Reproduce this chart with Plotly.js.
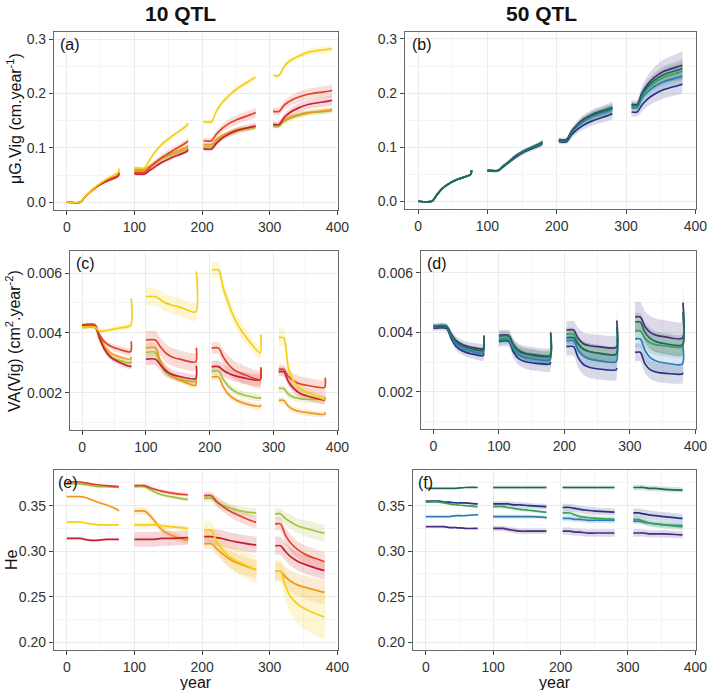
<!DOCTYPE html>
<html><head><meta charset="utf-8">
<script src="https://cdn.plot.ly/plotly-3.0.1.min.js"></script>
<style>html,body{margin:0;padding:0;background:#fff}#chart{width:709px;height:690px}</style>
</head><body><div id="chart"></div>
<script>
// ---- x grids (4 generations x 8 sample points) ----
const years  = [0,20,27,35,45,58,76,77, 100,115,122,130,140,153,178,179, 203,214,221,229,239,252,279,280, 308,316,323,331,341,354,380,381];
const yearsA = [0,20,27,35,45,58,76,77, 100,115,122,130,140,153,178,179, 202,214,221,229,239,252,278,279, 305,314,321,330,342,358,391,392];

// ---- series colours ----
const colors = {Y:'#F5CF12', O:'#F0981C', R1:'#E2412B', R2:'#C81F2E', G:'#A3C23A',
                P:'#4A2B7E', N:'#283282', B:'#2C7BBA', GR:'#37A25B', TG:'#1D6A5B'};

// ---- (a) muG.Vig, 10 QTL ----
const aY  = [0,0,0.010,0.020,0.031,0.042,0.055,0.062, 0.063,0.063,0.077,0.092,0.106,0.119,0.142,0.146, 0.148,0.148,0.167,0.182,0.195,0.209,0.229,0.230, 0.233,0.233,0.249,0.260,0.268,0.276,0.282,0.283];
const aR1 = [0,0,0.010,0.020,0.030,0.040,0.049,0.055, 0.055,0.055,0.063,0.072,0.082,0.092,0.111,0.113, 0.113,0.113,0.125,0.135,0.144,0.152,0.164,0.165, 0.167,0.167,0.178,0.186,0.193,0.199,0.205,0.206];
const aR2 = [0,0,0.010,0.019,0.029,0.038,0.048,0.052, 0.052,0.052,0.058,0.065,0.073,0.081,0.094,0.097, 0.098,0.098,0.108,0.117,0.125,0.132,0.140,0.141, 0.143,0.143,0.155,0.165,0.173,0.180,0.187,0.188];
const aO  = [0,0,0.010,0.020,0.030,0.040,0.050,0.056, 0.060,0.060,0.066,0.073,0.081,0.089,0.102,0.104, 0.106,0.106,0.115,0.122,0.128,0.134,0.139,0.140, 0.142,0.142,0.150,0.156,0.161,0.165,0.170,0.171];
const aG  = [0,0,0.010,0.020,0.030,0.040,0.050,0.054, 0.058,0.058,0.064,0.071,0.079,0.086,0.098,0.100, 0.102,0.102,0.111,0.119,0.125,0.131,0.137,0.138, 0.140,0.140,0.148,0.154,0.159,0.164,0.168,0.169];
const aYsd  = [0,0,0.001,0.001,0.001,0.002,0.002,0.002, 0.003,0.003,0.004,0.004,0.004,0.004,0.004,0.004, 0.004,0.004,0.004,0.005,0.005,0.005,0.005,0.005, 0.004,0.004,0.005,0.005,0.005,0.006,0.006,0.006];
const aR1sd = [0,0,0.001,0.001,0.001,0.002,0.002,0.002, 0.004,0.004,0.005,0.005,0.006,0.006,0.006,0.006, 0.006,0.006,0.007,0.007,0.008,0.008,0.009,0.009, 0.007,0.007,0.008,0.009,0.010,0.010,0.011,0.011];
const aR2sd = [0,0,0.001,0.001,0.001,0.002,0.002,0.002, 0.003,0.003,0.003,0.004,0.004,0.004,0.004,0.004, 0.004,0.004,0.005,0.005,0.005,0.006,0.006,0.006, 0.006,0.006,0.007,0.007,0.008,0.008,0.009,0.009];
const aOsd  = [0,0,0.001,0.001,0.001,0.001,0.002,0.002, 0.003,0.003,0.003,0.003,0.003,0.003,0.003,0.003, 0.003,0.003,0.004,0.004,0.004,0.004,0.004,0.004, 0.004,0.004,0.004,0.005,0.005,0.005,0.005,0.005];
const aGsd  = [0,0,0.001,0.001,0.001,0.001,0.002,0.002, 0.003,0.003,0.003,0.003,0.003,0.003,0.003,0.003, 0.003,0.003,0.004,0.004,0.004,0.004,0.004,0.004, 0.004,0.004,0.004,0.005,0.005,0.005,0.005,0.005];

// ---- (b) muG.Vig, 50 QTL ----
const bP  = [0,0,0.012,0.024,0.033,0.041,0.050,0.058, 0.057,0.057,0.064,0.072,0.083,0.093,0.108,0.110, 0.114,0.114,0.129,0.141,0.152,0.161,0.173,0.174, 0.179,0.179,0.200,0.216,0.229,0.240,0.251,0.252];
const bTG = [0,0,0.012,0.024,0.033,0.041,0.050,0.058, 0.057,0.057,0.064,0.072,0.083,0.093,0.108,0.110, 0.113,0.113,0.128,0.140,0.151,0.160,0.172,0.173, 0.178,0.178,0.198,0.212,0.224,0.234,0.245,0.246];
const bGR = [0,0,0.012,0.024,0.033,0.041,0.050,0.058, 0.057,0.057,0.064,0.072,0.083,0.093,0.107,0.109, 0.113,0.113,0.127,0.139,0.150,0.159,0.171,0.172, 0.176,0.176,0.195,0.208,0.219,0.229,0.240,0.241];
const bB  = [0,0,0.012,0.024,0.033,0.041,0.050,0.057, 0.057,0.057,0.064,0.072,0.083,0.093,0.107,0.109, 0.112,0.112,0.126,0.138,0.148,0.157,0.169,0.170, 0.173,0.173,0.190,0.202,0.212,0.221,0.231,0.232];
const bN  = [0,0,0.012,0.024,0.033,0.041,0.050,0.057, 0.056,0.056,0.063,0.071,0.081,0.091,0.105,0.107, 0.110,0.110,0.122,0.132,0.141,0.149,0.161,0.162, 0.165,0.165,0.178,0.189,0.198,0.206,0.216,0.217];
const bPsd  = [0,0,0.001,0.001,0.001,0.002,0.002,0.003, 0.002,0.002,0.003,0.003,0.004,0.004,0.005,0.006, 0.004,0.004,0.006,0.007,0.008,0.009,0.011,0.012, 0.008,0.008,0.013,0.016,0.019,0.022,0.026,0.027];
const bTGsd = [0,0,0.001,0.001,0.001,0.001,0.002,0.002, 0.002,0.002,0.002,0.003,0.003,0.003,0.004,0.004, 0.003,0.003,0.004,0.005,0.006,0.007,0.008,0.008, 0.006,0.006,0.009,0.011,0.013,0.015,0.017,0.018];
const bGRsd = [0,0,0.001,0.001,0.001,0.001,0.002,0.002, 0.002,0.002,0.002,0.003,0.003,0.003,0.004,0.004, 0.003,0.003,0.004,0.005,0.006,0.007,0.008,0.008, 0.006,0.006,0.009,0.011,0.013,0.015,0.017,0.018];
const bBsd  = [0,0,0.001,0.001,0.001,0.001,0.002,0.002, 0.002,0.002,0.002,0.003,0.003,0.003,0.004,0.004, 0.003,0.003,0.004,0.005,0.006,0.007,0.008,0.008, 0.006,0.006,0.009,0.011,0.013,0.015,0.017,0.018];
const bNsd  = [0,0,0.001,0.001,0.001,0.002,0.002,0.003, 0.002,0.002,0.003,0.003,0.004,0.004,0.005,0.006, 0.004,0.004,0.006,0.007,0.008,0.009,0.011,0.012, 0.008,0.008,0.012,0.014,0.015,0.016,0.017,0.017];

// ---- (c) VA(Vig), 10 QTL ----
const cY  = [0.00419,0.00419,0.00406,0.00407,0.00411,0.00416,0.00425,0.00515, 0.00521,0.00521,0.00512,0.00501,0.00493,0.00486,0.00470,0.00605, 0.00610,0.00610,0.00551,0.00501,0.00447,0.00400,0.00333,0.00395, 0.00384,0.00384,0.00285,0.00240,0.00215,0.00200,0.00178,0.00182];
const cR1 = [0.00427,0.00427,0.00395,0.00370,0.00355,0.00345,0.00337,0.00372, 0.00376,0.00376,0.00355,0.00335,0.00320,0.00312,0.00303,0.00350, 0.00349,0.00349,0.00320,0.00295,0.00275,0.00262,0.00244,0.00285, 0.00278,0.00278,0.00255,0.00240,0.00230,0.00224,0.00218,0.00250];
const cR2 = [0.00425,0.00425,0.00385,0.00345,0.00318,0.00302,0.00288,0.00290, 0.00312,0.00312,0.00295,0.00275,0.00262,0.00254,0.00247,0.00290, 0.00287,0.00287,0.00275,0.00265,0.00257,0.00250,0.00243,0.00280, 0.00270,0.00270,0.00238,0.00215,0.00198,0.00188,0.00176,0.00182];
const cO  = [0.00421,0.00421,0.00390,0.00355,0.00332,0.00320,0.00311,0.00320, 0.00350,0.00350,0.00310,0.00280,0.00258,0.00242,0.00225,0.00240, 0.00252,0.00252,0.00220,0.00195,0.00178,0.00166,0.00154,0.00160, 0.00174,0.00174,0.00155,0.00144,0.00137,0.00133,0.00128,0.00135];
const cG  = [0.00417,0.00417,0.00380,0.00345,0.00320,0.00308,0.00300,0.00305, 0.00335,0.00335,0.00298,0.00270,0.00253,0.00245,0.00238,0.00250, 0.00272,0.00272,0.00245,0.00222,0.00205,0.00193,0.00182,0.00185, 0.00214,0.00214,0.00195,0.00185,0.00180,0.00178,0.00180,0.00185];
const cYsd  = [0.00005,0.00005,0.00006,0.00007,0.00008,0.00009,0.0001,0.0001, 0.0003,0.0003,0.0003,0.0003,0.0003,0.0003,0.0003,0.0003, 0.00025,0.00025,0.00025,0.00025,0.00025,0.00025,0.0002,0.0002, 0.0003,0.0003,0.00025,0.0002,0.00015,0.00015,0.00015,0.00015];
const cR1sd = [0.00005,0.00005,0.0001,0.0001,0.0001,0.00012,0.00012,0.00012, 0.0003,0.0003,0.0003,0.0003,0.0003,0.0003,0.0003,0.0003, 0.0002,0.0002,0.00025,0.0003,0.0003,0.0003,0.0003,0.0003, 0.00015,0.00015,0.0002,0.00025,0.00025,0.00025,0.00025,0.00025];
const cR2sd = [0.00005,0.00005,0.0001,0.0001,0.0001,0.0001,0.0001,0.0001, 0.0002,0.0002,0.0002,0.0002,0.00015,0.00015,0.00015,0.00015, 0.0002,0.0002,0.0002,0.0002,0.0002,0.0002,0.0002,0.0002, 0.00015,0.00015,0.00015,0.00015,0.00015,0.00015,0.00015,0.00015];
const cOsd  = [0.00005,0.00005,0.00008,0.00008,0.00008,0.00008,0.00008,0.00008, 0.00015,0.00015,0.00012,0.0001,0.0001,0.0001,0.0001,0.0001, 0.00012,0.00012,0.0001,0.0001,0.0001,0.0001,0.0001,0.0001, 0.0001,0.0001,0.0001,0.0001,0.0001,0.0001,0.0001,0.0001];
const cGsd  = [0.00005,0.00005,0.00008,0.00008,0.00008,0.00008,0.00008,0.00008, 0.00015,0.00015,0.00012,0.0001,0.0001,0.0001,0.0001,0.0001, 0.00015,0.00015,0.00012,0.00012,0.00012,0.00012,0.00012,0.00012, 0.00012,0.00012,0.00012,0.00012,0.00012,0.00012,0.00012,0.00012];

// ---- (d) VA(Vig), 50 QTL ----
const dP  = [0.00421,0.00421,0.00395,0.00372,0.00358,0.00350,0.00345,0.00390, 0.00390,0.00390,0.00360,0.00340,0.00330,0.00325,0.00322,0.00400, 0.00408,0.00408,0.00380,0.00362,0.00355,0.00352,0.00350,0.00440, 0.00452,0.00452,0.00420,0.00400,0.00390,0.00385,0.00380,0.00500];
const dTG = [0.00420,0.00420,0.00393,0.00368,0.00354,0.00345,0.00340,0.00385, 0.00388,0.00388,0.00358,0.00338,0.00328,0.00323,0.00320,0.00395, 0.00382,0.00382,0.00360,0.00343,0.00335,0.00330,0.00327,0.00420, 0.00435,0.00435,0.00400,0.00380,0.00368,0.00362,0.00358,0.00470];
const dGR = [0.00420,0.00420,0.00392,0.00366,0.00352,0.00343,0.00337,0.00380, 0.00379,0.00379,0.00352,0.00334,0.00326,0.00321,0.00318,0.00390, 0.00394,0.00394,0.00365,0.00345,0.00335,0.00330,0.00325,0.00410, 0.00405,0.00405,0.00380,0.00365,0.00358,0.00355,0.00352,0.00460];
const dB  = [0.00418,0.00418,0.00388,0.00360,0.00345,0.00336,0.00330,0.00370, 0.00374,0.00374,0.00345,0.00325,0.00316,0.00311,0.00308,0.00370, 0.00372,0.00372,0.00340,0.00320,0.00310,0.00305,0.00302,0.00380, 0.00378,0.00378,0.00340,0.00315,0.00303,0.00297,0.00293,0.00360];
const dN  = [0.00414,0.00414,0.00380,0.00352,0.00337,0.00328,0.00322,0.00330, 0.00370,0.00370,0.00335,0.00312,0.00302,0.00297,0.00294,0.00300, 0.00352,0.00352,0.00315,0.00292,0.00282,0.00277,0.00274,0.00280, 0.00333,0.00333,0.00295,0.00275,0.00266,0.00262,0.00260,0.00265];
const dPsd  = [0.0001,0.0001,0.00012,0.00014,0.00015,0.00016,0.00018,0.00018, 0.00018,0.00018,0.0002,0.00022,0.00024,0.00025,0.00026,0.00026, 0.0003,0.0003,0.00035,0.00038,0.0004,0.0004,0.0004,0.0004, 0.0005,0.0005,0.00052,0.00055,0.00056,0.00056,0.00056,0.00056];
const dTGsd = [0.00008,0.00008,0.0001,0.0001,0.0001,0.0001,0.00012,0.00012, 0.00015,0.00015,0.00016,0.00018,0.0002,0.0002,0.0002,0.0002, 0.00022,0.00022,0.00025,0.00026,0.00028,0.00028,0.00028,0.00028, 0.0003,0.0003,0.00032,0.00034,0.00035,0.00035,0.00035,0.00035];
const dGRsd = [0.00008,0.00008,0.0001,0.0001,0.0001,0.0001,0.00012,0.00012, 0.00015,0.00015,0.00016,0.00018,0.0002,0.0002,0.0002,0.0002, 0.00022,0.00022,0.00025,0.00026,0.00028,0.00028,0.00028,0.00028, 0.0003,0.0003,0.00032,0.00034,0.00035,0.00035,0.00035,0.00035];
const dBsd  = [0.00008,0.00008,0.0001,0.0001,0.0001,0.0001,0.00012,0.00012, 0.00015,0.00015,0.00016,0.00018,0.0002,0.0002,0.0002,0.0002, 0.00022,0.00022,0.00025,0.00026,0.00028,0.00028,0.00028,0.00028, 0.0003,0.0003,0.00032,0.00034,0.00035,0.00035,0.00035,0.00035];
const dNsd  = [0.0001,0.0001,0.00012,0.00014,0.00015,0.00016,0.00018,0.00018, 0.00018,0.00018,0.0002,0.00022,0.00024,0.00025,0.00026,0.00026, 0.0003,0.0003,0.00033,0.00035,0.00035,0.00035,0.00035,0.00035, 0.0003,0.0003,0.00032,0.00032,0.00032,0.00032,0.00032,0.00032];

// ---- (e) He, 10 QTL ----
const eR1 = [0.376,0.376,0.375,0.374,0.373,0.372,0.371,0.371, 0.372,0.372,0.370,0.368,0.366,0.364,0.362,0.362, 0.361,0.361,0.355,0.350,0.345,0.340,0.332,0.332, 0.330,0.330,0.318,0.309,0.302,0.296,0.289,0.289];
const eG  = [0.374,0.374,0.373,0.372,0.371,0.371,0.370,0.370, 0.371,0.371,0.368,0.365,0.362,0.360,0.357,0.357, 0.358,0.358,0.354,0.351,0.348,0.345,0.342,0.342, 0.341,0.341,0.336,0.332,0.328,0.325,0.320,0.320];
const eO  = [0.360,0.360,0.359,0.357,0.354,0.351,0.345,0.344, 0.344,0.344,0.340,0.333,0.324,0.318,0.312,0.314, 0.308,0.308,0.303,0.298,0.292,0.287,0.280,0.280, 0.278,0.278,0.272,0.267,0.263,0.260,0.255,0.255];
const eY  = [0.332,0.332,0.331,0.330,0.329,0.329,0.329,0.329, 0.329,0.329,0.329,0.329,0.328,0.327,0.325,0.325, 0.323,0.323,0.311,0.303,0.295,0.289,0.280,0.280, 0.278,0.278,0.262,0.250,0.242,0.236,0.228,0.228];
const eR2 = [0.314,0.314,0.313,0.312,0.312,0.313,0.313,0.313, 0.313,0.313,0.313,0.313,0.314,0.314,0.315,0.315, 0.316,0.316,0.315,0.314,0.312,0.310,0.307,0.307, 0.306,0.306,0.300,0.294,0.289,0.285,0.279,0.279];
const eR1sd = [0.001,0.001,0.001,0.001,0.001,0.001,0.001,0.001, 0.002,0.002,0.002,0.002,0.002,0.002,0.002,0.002, 0.004,0.004,0.005,0.006,0.006,0.007,0.007,0.007, 0.007,0.007,0.008,0.009,0.009,0.010,0.010,0.010];
const eGsd  = [0.001,0.001,0.001,0.001,0.001,0.001,0.001,0.001, 0.002,0.002,0.002,0.002,0.002,0.002,0.002,0.002, 0.004,0.004,0.005,0.005,0.005,0.005,0.005,0.005, 0.006,0.006,0.007,0.008,0.008,0.009,0.009,0.009];
const eOsd  = [0.001,0.001,0.001,0.001,0.001,0.001,0.001,0.001, 0.004,0.004,0.004,0.004,0.004,0.004,0.004,0.004, 0.006,0.006,0.007,0.008,0.009,0.010,0.010,0.010, 0.010,0.010,0.011,0.012,0.012,0.013,0.013,0.013];
const eYsd  = [0.001,0.001,0.001,0.001,0.001,0.001,0.001,0.001, 0.003,0.003,0.003,0.003,0.003,0.003,0.003,0.003, 0.010,0.010,0.011,0.012,0.013,0.014,0.015,0.015, 0.012,0.012,0.016,0.019,0.021,0.023,0.025,0.025];
const eR2sd = [0.001,0.001,0.001,0.001,0.001,0.001,0.001,0.001, 0.008,0.008,0.008,0.008,0.008,0.008,0.008,0.008, 0.008,0.008,0.009,0.009,0.009,0.009,0.009,0.009, 0.010,0.010,0.010,0.010,0.010,0.010,0.010,0.010];

// ---- (f) He, 50 QTL ----
const fTG = [0.369,0.369,0.369,0.369,0.369,0.370,0.370,0.370, 0.370,0.370,0.370,0.370,0.370,0.370,0.370,0.370, 0.370,0.370,0.370,0.370,0.370,0.370,0.370,0.370, 0.370,0.370,0.370,0.369,0.369,0.368,0.367,0.367];
const fN  = [0.355,0.355,0.354,0.354,0.353,0.353,0.352,0.352, 0.352,0.352,0.352,0.351,0.351,0.350,0.349,0.349, 0.348,0.348,0.347,0.346,0.345,0.344,0.343,0.343, 0.342,0.342,0.341,0.340,0.339,0.338,0.336,0.336];
const fGR = [0.354,0.354,0.353,0.352,0.351,0.350,0.349,0.349, 0.349,0.349,0.348,0.347,0.346,0.345,0.343,0.343, 0.342,0.342,0.340,0.338,0.337,0.336,0.335,0.335, 0.335,0.335,0.333,0.331,0.330,0.329,0.327,0.327];
const fB  = [0.338,0.338,0.338,0.338,0.339,0.339,0.340,0.339, 0.338,0.338,0.338,0.338,0.338,0.338,0.337,0.336, 0.336,0.336,0.335,0.335,0.334,0.334,0.334,0.334, 0.333,0.333,0.332,0.331,0.330,0.329,0.328,0.328];
const fP  = [0.327,0.327,0.327,0.326,0.326,0.325,0.325,0.325, 0.325,0.325,0.324,0.323,0.322,0.322,0.322,0.322, 0.322,0.322,0.321,0.321,0.320,0.320,0.320,0.320, 0.320,0.320,0.320,0.319,0.319,0.319,0.318,0.318];
const fTGsd = [0.0005,0.0005,0.0005,0.0005,0.0005,0.0005,0.0005,0.0005, 0.002,0.002,0.002,0.002,0.002,0.002,0.002,0.002, 0.002,0.002,0.002,0.002,0.002,0.002,0.002,0.002, 0.003,0.003,0.003,0.003,0.003,0.003,0.003,0.003];
const fNsd  = [0.0008,0.0008,0.0008,0.0008,0.0008,0.0008,0.0008,0.0008, 0.003,0.003,0.003,0.003,0.003,0.003,0.003,0.003, 0.004,0.004,0.004,0.004,0.004,0.004,0.004,0.004, 0.005,0.005,0.005,0.005,0.005,0.005,0.005,0.005];
const fGRsd = [0.0008,0.0008,0.0008,0.0008,0.0008,0.0008,0.0008,0.0008, 0.002,0.002,0.002,0.002,0.002,0.002,0.002,0.002, 0.003,0.003,0.003,0.003,0.003,0.003,0.003,0.003, 0.004,0.004,0.004,0.004,0.004,0.004,0.004,0.004];
const fBsd  = [0.0008,0.0008,0.0008,0.0008,0.0008,0.0008,0.0008,0.0008, 0.002,0.002,0.002,0.002,0.002,0.002,0.002,0.002, 0.003,0.003,0.003,0.003,0.003,0.003,0.003,0.003, 0.003,0.003,0.003,0.003,0.003,0.003,0.003,0.003];
const fPsd  = [0.0008,0.0008,0.0008,0.0008,0.0008,0.0008,0.0008,0.0008, 0.003,0.003,0.003,0.003,0.003,0.003,0.003,0.003, 0.004,0.004,0.004,0.004,0.004,0.004,0.004,0.004, 0.004,0.004,0.004,0.004,0.004,0.004,0.004,0.004];

// ---- panel assembly ----
const W = 709, H = 690;
const px = v => v / W, py = v => 1 - v / H;

const panels = [
  {id:'', label:'(a)', xs:yearsA, box:[54,338,32,210], yr:[-0.0143,0.3129], dt:0.1, mdt:0.05, fmt:'.1f', lab:[58,44],
   ser:{G:[aG,aGsd],O:[aO,aOsd],R2:[aR2,aR2sd],R1:[aR1,aR1sd],Y:[aY,aYsd]}},
  {id:'2', label:'(b)', xs:years, box:[405,696,32,209], yr:[-0.0143,0.3129], dt:0.1, mdt:0.05, fmt:'.1f', lab:[410,44],
   ser:{N:[bN,bNsd],P:[bP,bPsd],B:[bB,bBsd],GR:[bGR,bGRsd],TG:[bTG,bTGsd]}},
  {id:'3', label:'(c)', xs:years, box:[70,338,251,430], yr:[0.000752,0.006736], dt:0.002, mdt:0.001, fmt:'.3f', lab:[74,263],
   ser:{G:[cG,cGsd],O:[cO,cOsd],R2:[cR2,cR2sd],R1:[cR1,cR1sd],Y:[cY,cYsd]}},
  {id:'4', label:'(d)', xs:years, box:[421,696,251,429], yr:[0.000752,0.006736], dt:0.002, mdt:0.001, fmt:'.3f', lab:[425,263],
   ser:{N:[dN,dNsd],P:[dP,dPsd],B:[dB,dBsd],GR:[dGR,dGRsd],TG:[dTG,dTGsd]}},
  {id:'5', label:'(e)', xs:years, box:[54,338,470,650], yr:[0.1915,0.3892], dt:0.05, mdt:0.025, fmt:'.2f', lab:[56,482],
   ser:{G:[eG,eGsd],O:[eO,eOsd],R2:[eR2,eR2sd],R1:[eR1,eR1sd],Y:[eY,eYsd]}},
  {id:'6', label:'(f)', xs:years, box:[413,696,470,650], yr:[0.1915,0.3892], dt:0.05, mdt:0.025, fmt:'.2f', lab:[416,482],
   ser:{N:[fN,fNsd],P:[fP,fPsd],B:[fB,fBsd],GR:[fGR,fGRsd],TG:[fTG,fTGsd]}}
];

function rgba(hex, a) {
  const n = parseInt(hex.slice(1), 16);
  return `rgba(${(n>>16)&255},${(n>>8)&255},${n&255},${a})`;
}

const FONT = 'Liberation Sans, Arial, sans-serif';
const traces = [];
const layout = {
  width: W, height: H, margin:{l:0,r:0,t:0,b:0}, showlegend:false,
  paper_bgcolor:'#fff', plot_bgcolor:'#fff',
  font:{family:FONT, color:'#333'},
  annotations: []
};

panels.forEach(p => {
  const xa = 'x' + p.id, ya = 'y' + p.id;
  const keys = Object.keys(p.ser);
  keys.forEach(k => {
    const [ys, sd] = p.ser[k];
    for (let s = 0; s < 4; s++) {
      const sx = p.xs.slice(s*8, s*8+8), sy = ys.slice(s*8, s*8+8), ss = sd.slice(s*8, s*8+8);
      const up = sy.map((v,i) => v + ss[i]);
      const lo = sy.map((v,i) => v - ss[i]);
      traces.push({type:'scatter', mode:'lines', xaxis:xa, yaxis:ya,
        x: sx.concat(sx.slice().reverse()), y: up.concat(lo.reverse()),
        fill:'toself', fillcolor: rgba(colors[k], 0.18), line:{width:0, shape:'spline', smoothing:0.7},
        hoverinfo:'skip'});
    }
  });
  keys.forEach(k => {
    const ys = p.ser[k][0];
    const lx = [], ly = [];
    for (let s = 0; s < 4; s++) {
      if (s) { lx.push(null); ly.push(null); }
      lx.push(...p.xs.slice(s*8, s*8+8)); ly.push(...ys.slice(s*8, s*8+8));
    }
    traces.push({type:'scatter', mode:'lines', xaxis:xa, yaxis:ya, x:lx, y:ly, name:k,
      connectgaps:false, line:{color:colors[k], width:1.7, shape:'spline', smoothing:0.7}});
  });
  const [l, r, t, b] = p.box;
  const common = {showline:true, mirror:true, linecolor:'#6a6a6a', linewidth:1.1,
    ticks:'outside', ticklen:4, tickcolor:'#444', tickwidth:1,
    tickfont:{size:14, color:'#333', family:FONT}, ticklabeloverflow:'allow',
    showgrid:true, gridcolor:'#EBEBEB', gridwidth:1, zeroline:false, fixedrange:true};
  layout['xaxis' + p.id] = Object.assign({}, common, {
    domain:[px(l), px(r)], anchor:ya, range:[-19, 401], tick0:0, dtick:100,
    minor:{tick0:0, dtick:50, showgrid:true, gridcolor:'#F4F4F4', gridwidth:1, ticks:''}});
  layout['yaxis' + p.id] = Object.assign({}, common, {
    domain:[py(b), py(t)], anchor:xa, range:p.yr, tick0:0, dtick:p.dt, tickformat:p.fmt,
    minor:{tick0:0, dtick:p.mdt, showgrid:true, gridcolor:'#F4F4F4', gridwidth:1, ticks:''}});
  layout.annotations.push({text:p.label, xref:'paper', yref:'paper', x:px(p.lab[0]), y:py(p.lab[1]),
    xanchor:'left', yanchor:'middle', showarrow:false, font:{size:16, color:'#111', family:FONT}});
});

const ann = (text, x, y, opts) => layout.annotations.push(Object.assign({text, xref:'paper', yref:'paper',
  x:px(x), y:py(y), xanchor:'center', yanchor:'middle', showarrow:false,
  font:{size:16, color:'#111', family:FONT}}, opts || {}));
ann('<b>10 QTL</b>', 180, 14, {font:{size:21, color:'#111', family:FONT}});
ann('<b>50 QTL</b>', 541, 14, {font:{size:21, color:'#111', family:FONT}});
ann('μG.Vig (cm.year<sup>-1</sup>)', 14, 119, {textangle:-90});
ann('VA(Vig) (cm<sup>2</sup>.year<sup>-2</sup>)', 13, 341, {textangle:-90});
ann('He', 11, 560, {textangle:-90});
ann('year', 196, 693, {yanchor:'bottom'});
ann('year', 555, 693, {yanchor:'bottom'});

Plotly.newPlot('chart', traces, layout, {displayModeBar:false, staticPlot:true});
</script>
</body></html>
